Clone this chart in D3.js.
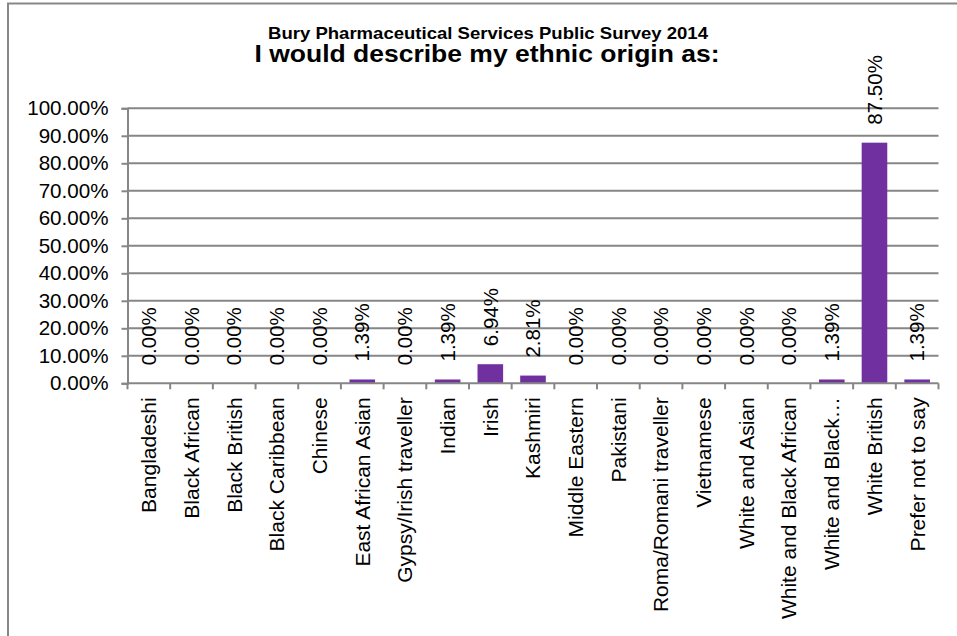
<!DOCTYPE html>
<html>
<head>
<meta charset="utf-8">
<script src="https://cdn.jsdelivr.net/npm/d3@7/dist/d3.min.js"></script>
<style>
  body { margin: 0; background: #fff; }
  svg { display: block; font-family: Arial, "Liberation Sans", sans-serif; }
</style>
</head>
<body>
<svg id="chart" width="957" height="636"></svg>
<script>
// Survey responses: share of respondents per ethnic origin
const categories = [
  "Bangladeshi", "Black African", "Black British", "Black Caribbean", "Chinese",
  "East African Asian", "Gypsy/Irish traveller", "Indian", "Irish", "Kashmiri",
  "Middle Eastern", "Pakistani", "Roma/Romani traveller", "Vietnamese",
  "White and Asian", "White and Black African", "White and Black\u2026",
  "White British", "Prefer not to say"
];
const values = [
  0.0000, 0.0000, 0.0000, 0.0000, 0.0000,
  0.0139, 0.0000, 0.0139, 0.0694, 0.0281,
  0.0000, 0.0000, 0.0000, 0.0000,
  0.0000, 0.0000, 0.0139,
  0.8750, 0.0139
];
const yTicks = [0, 0.1, 0.2, 0.3, 0.4, 0.5, 0.6, 0.7, 0.8, 0.9, 1.0];
const titleLine1 = "Bury Pharmaceutical Services Public Survey 2014";
const titleLine2 = "I would describe my ethnic origin as:";

const svg = d3.select("#chart");
const W = 957, H = 636;
const plot = { left: 127.5, right: 938.5, top: 108.3, bottom: 383.3 };
const gridColor = "#868686";
const barColor = "#7030A0";
const pct = d3.format(".2%");

// Chart area border
svg.append("rect")
  .attr("x", 8).attr("y", 3.5)
  .attr("width", W + 20).attr("height", H + 20)
  .attr("fill", "#fff")
  .attr("stroke", "#878787").attr("stroke-width", 2);

// Titles
svg.append("text")
  .attr("x", 488).attr("y", 38.5)
  .attr("text-anchor", "middle")
  .attr("font-size", 16.5).attr("font-weight", "bold")
  .attr("textLength", 440).attr("lengthAdjust", "spacingAndGlyphs")
  .text(titleLine1);
svg.append("text")
  .attr("x", 487).attr("y", 62)
  .attr("text-anchor", "middle")
  .attr("font-size", 24).attr("font-weight", "bold")
  .attr("textLength", 465).attr("lengthAdjust", "spacingAndGlyphs")
  .text(titleLine2);

const x = d3.scaleBand()
  .domain(categories)
  .range([plot.left, plot.right])
  .paddingInner(0.4).paddingOuter(0.2);

const y = d3.scaleLinear()
  .domain([0, 1])
  .range([plot.bottom, plot.top]);

// Horizontal gridlines
svg.append("g")
  .selectAll("line")
  .data(yTicks.filter(d => d > 0))
  .join("line")
  .attr("x1", plot.left).attr("x2", plot.right)
  .attr("y1", d => y(d)).attr("y2", d => y(d))
  .attr("stroke", gridColor).attr("stroke-width", 2);

// Y axis
const yAxis = svg.append("g")
  .attr("transform", `translate(${plot.left},0)`)
  .call(d3.axisLeft(y).tickValues(yTicks).tickFormat(pct).tickSize(6).tickPadding(13));
yAxis.select(".domain").attr("stroke", gridColor).attr("stroke-width", 2);
yAxis.selectAll(".tick line").attr("stroke", gridColor).attr("stroke-width", 2);
yAxis.selectAll(".tick text")
  .attr("font-size", 20.6).attr("font-family", "Arial, 'Liberation Sans', sans-serif")
  .attr("fill", "#000");

// Bars
svg.append("g")
  .selectAll("rect")
  .data(categories.map((c, i) => ({ c, v: values[i] })))
  .join("rect")
  .attr("x", d => x(d.c))
  .attr("width", x.bandwidth())
  .attr("y", d => y(d.v))
  .attr("height", d => plot.bottom - y(d.v))
  .attr("fill", barColor);

// X axis with ticks at category boundaries
const step = x.step();
const boundaries = d3.range(categories.length + 1).map(i => plot.left + i * step);
svg.append("line")
  .attr("x1", plot.left).attr("x2", plot.right)
  .attr("y1", plot.bottom).attr("y2", plot.bottom)
  .attr("stroke", gridColor).attr("stroke-width", 2);
svg.append("g")
  .selectAll("line")
  .data(boundaries)
  .join("line")
  .attr("x1", d => d).attr("x2", d => d)
  .attr("y1", plot.bottom).attr("y2", plot.bottom + 6)
  .attr("stroke", gridColor).attr("stroke-width", 2);

// Category labels, rotated
svg.append("g")
  .selectAll("text")
  .data(categories)
  .join("text")
  .attr("transform", d => `translate(${x(d) + x.bandwidth() / 2},${plot.bottom + 14}) rotate(-90)`)
  .attr("text-anchor", "end")
  .attr("dy", "0.35em")
  .attr("font-size", 21)
  .text(d => d);

// Value labels above each bar
svg.append("g")
  .selectAll("text")
  .data(categories.map((c, i) => ({ c, v: values[i] })))
  .join("text")
  .attr("transform", d => `translate(${x(d.c) + x.bandwidth() / 2},${y(d.v) - 18}) rotate(-90)`)
  .attr("text-anchor", "start")
  .attr("dy", "0.35em")
  .attr("font-size", 20.5)
  .text(d => pct(d.v));
</script>
</body>
</html>
